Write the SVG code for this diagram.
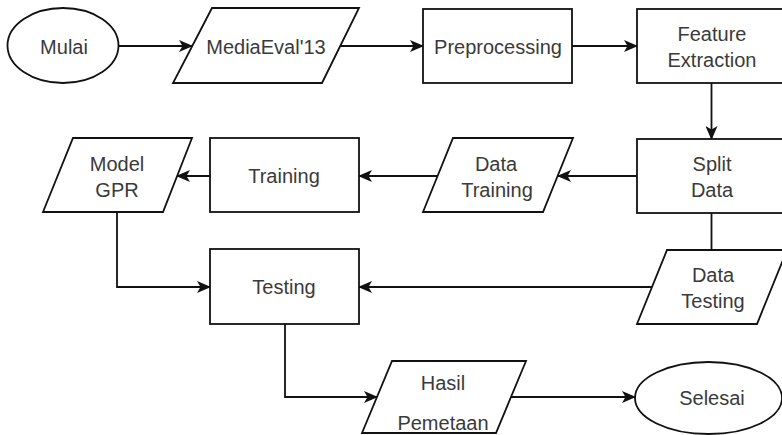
<svg xmlns="http://www.w3.org/2000/svg" width="782" height="435" viewBox="0 0 782 435">
  <style>
    .shape { fill: #ffffff; stroke: #111111; stroke-width: 1.8; }
    .edge { fill: none; stroke: #111111; stroke-width: 1.8; }
    .arrow { marker-end: url(#head); }
    text { font-family: "Liberation Sans", Arial, sans-serif; font-size: 20px; fill: #3a3a3a; text-anchor: middle; }
  </style>
  <defs>
    <marker id="head" viewBox="0 0 14 12" refX="13" refY="6" markerWidth="14" markerHeight="12" markerUnits="userSpaceOnUse" orient="auto">
      <path d="M0,0 L14,6 L0,12 L3.5,6 Z" fill="#111111"/>
    </marker>
  </defs>
  <rect width="782" height="435" fill="#ffffff"/>

  <!-- connectors -->
  <g id="connectors">
    <path class="edge arrow" d="M118,46 H192"/>
    <path class="edge arrow" d="M341,46 H423"/>
    <path class="edge arrow" d="M572,46 H637"/>
    <path class="edge arrow" d="M711.5,83 V139"/>
    <path class="edge arrow" d="M637,176 H558"/>
    <path class="edge arrow" d="M438,176 H359"/>
    <path class="edge arrow" d="M210,176 H177"/>
    <path class="edge arrow" d="M117,212 V287 H210"/>
    <path class="edge" d="M711.5,213 V250"/>
    <path class="edge arrow" d="M652,287 H359"/>
    <path class="edge arrow" d="M285,324 V397 H377"/>
    <path class="edge arrow" d="M511,397 H635"/>
  </g>

  <!-- nodes -->
  <g id="mulai">
    <ellipse class="shape" cx="63" cy="45.5" rx="55.5" ry="37.5"/>
    <text x="64" y="54">Mulai</text>
  </g>
  <g id="mediaeval">
    <polygon class="shape" points="212,8 359,8 322,83 173,83"/>
    <text x="266" y="53.5">MediaEval'13</text>
  </g>
  <g id="preprocessing">
    <rect class="shape" x="423" y="9" width="149" height="74"/>
    <text x="498" y="53.5">Preprocessing</text>
  </g>
  <g id="feature-extraction">
    <rect class="shape" x="637" y="9" width="149" height="74"/>
    <text x="712" y="41">Feature</text>
    <text x="712" y="67">Extraction</text>
  </g>
  <g id="split-data">
    <rect class="shape" x="637" y="139" width="149" height="74"/>
    <text x="712" y="171">Split</text>
    <text x="712" y="197">Data</text>
  </g>
  <g id="data-training">
    <polygon class="shape" points="453,138 573,138 543,212 423,212"/>
    <text x="496" y="171">Data</text>
    <text x="497" y="197">Training</text>
  </g>
  <g id="training">
    <rect class="shape" x="210" y="138" width="149" height="74"/>
    <text x="284" y="183">Training</text>
  </g>
  <g id="model-gpr">
    <polygon class="shape" points="73,138 192,138 163,212 43,212"/>
    <text x="117" y="171">Model</text>
    <text x="117" y="197">GPR</text>
  </g>
  <g id="testing">
    <rect class="shape" x="210" y="249" width="149" height="75"/>
    <text x="284" y="294">Testing</text>
  </g>
  <g id="data-testing">
    <polygon class="shape" points="667,250 787,250 757,324 637,324"/>
    <text x="713" y="282">Data</text>
    <text x="713" y="308">Testing</text>
  </g>
  <g id="hasil-pemetaan">
    <polygon class="shape" points="392,361 526,361 496,433 362,433"/>
    <text x="443" y="390">Hasil</text>
    <text x="443" y="430">Pemetaan</text>
  </g>
  <g id="selesai">
    <ellipse class="shape" cx="708.5" cy="398" rx="73.5" ry="36"/>
    <text x="712" y="405">Selesai</text>
  </g>
</svg>
